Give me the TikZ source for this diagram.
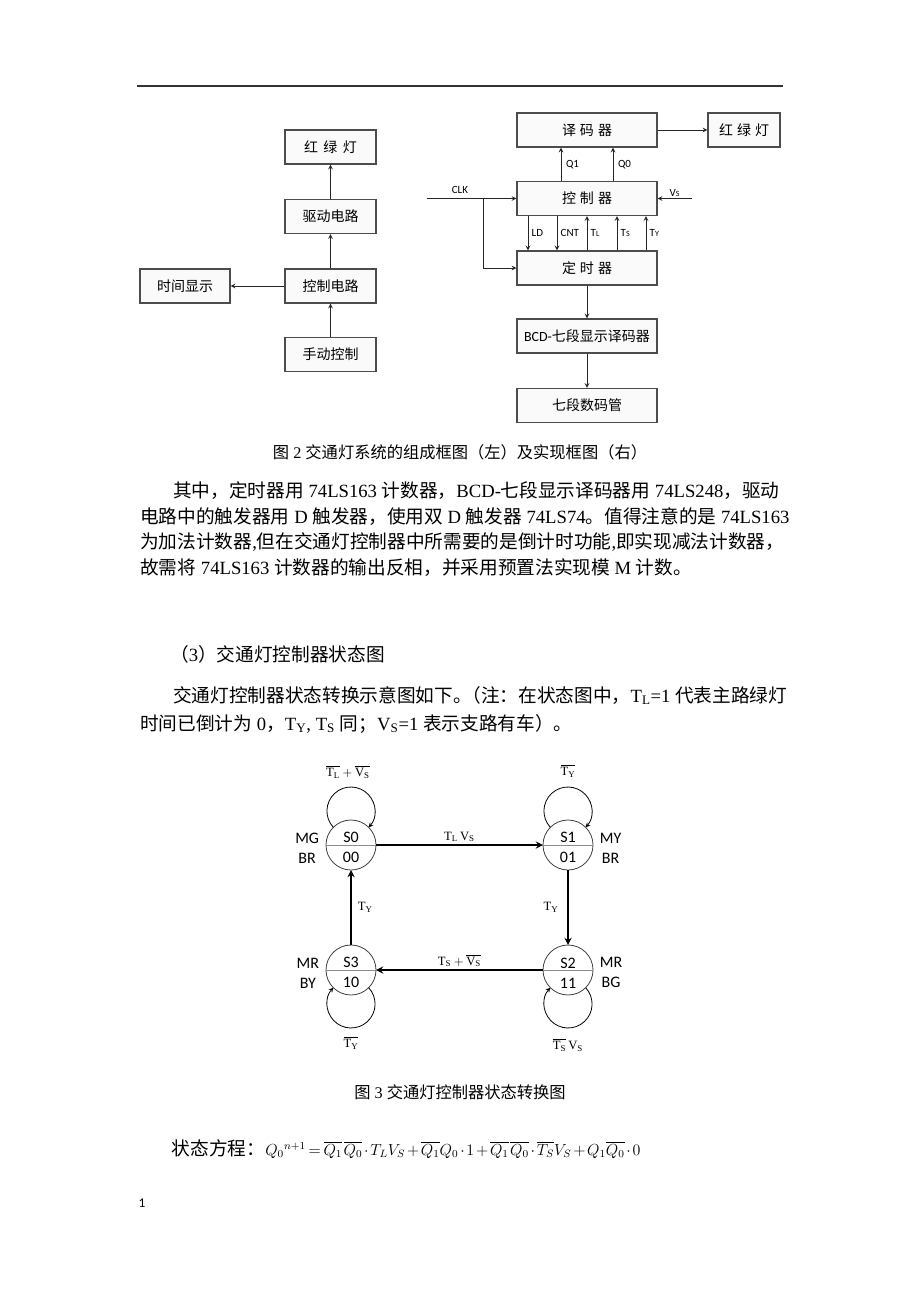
\documentclass[tikz,border=0pt]{standalone}
\usepackage{fontspec}
\setmainfont{Liberation Serif}
\newfontfamily\zh{Noto Sans CJK SC}
\newfontfamily\calfont{Carlito}
\usetikzlibrary{arrows,positioning,calc}
\newcommand\sm[1]{{\fontsize{6}{6}\selectfont #1}}

\begin{document}
\begin{tikzpicture}[> = stealth, x=0.75pt, y=0.75pt]
  \tikzstyle{blk}=[draw=black!70, line width=0.9pt, fill=black!2, minimum height=25.5pt, inner sep=0pt, font=\fontsize{10.5}{12}\selectfont\zh]
  \tikzstyle{wire}=[draw=black!85, line width=0.6pt]
  \tikzstyle{lbl}=[inner sep=1.5pt, font=\fontsize{8.25}{10}\selectfont\calfont]
  \tikzstyle{state}=[circle, draw=black!75, line width=0.6pt, minimum size=37.5pt, inner sep=0pt, outer sep=0pt, align=center, font=\fontsize{12}{15}\selectfont\calfont]
  \tikzstyle{side}=[inner sep=0pt, align=center, font=\fontsize{12}{15}\selectfont\calfont]
  \tikzstyle{cond}=[inner sep=1.5pt, font=\fontsize{9.5}{11}\selectfont]
  \tikzstyle{edge}=[->, line width=1.4pt]
  \tikzstyle{selfloop}=[->, line width=0.6pt]
  \tikzstyle{para}=[inner sep=0pt, anchor=base west, font=\fontsize{14}{17}\selectfont]
  \tikzstyle{figcap}=[inner sep=0pt, font=\fontsize{12.2}{14}\selectfont]

  \fill[white] (0,0) rectangle (920,-1302);
  \useasboundingbox (0,0) rectangle (920,-1302);

  % 页眉线
  \draw[black!80, line width=1.1pt] (137,-86) -- (783,-86);

  % 组成框图（左）
  \node[blk, minimum width=68.25pt] (lamp)   at (330.5,-147)   {红\hspace{4pt}绿\hspace{4pt}灯};
  \node[blk, minimum width=68.25pt] (drive)  at (330.5,-216.5) {驱动电路};
  \node[blk, minimum width=68.25pt] (ctrl)   at (330.5,-286)   {控制电路};
  \node[blk, minimum width=68.25pt] (manual) at (330.5,-354.5) {手动控制};
  \node[blk, minimum width=67.5pt]  (tshow)  at (185,-286)     {时间显示};

  \draw[wire,->] (manual) -- (ctrl);
  \draw[wire,->] (ctrl) -- (drive);
  \draw[wire,->] (drive) -- (lamp);
  \draw[wire,->] (ctrl) -- (tshow);

  % 实现框图（右）
  \node[blk, minimum width=105pt] (dec)   at (587,-130)   {译\hspace{3pt}码\hspace{3pt}器};
  \node[blk, minimum width=54pt]  (lamp2) at (744,-130)   {红\hspace{3pt}绿\hspace{3pt}灯};
  \node[blk, minimum width=105pt] (ctl)   at (587,-198.5) {控\hspace{3pt}制\hspace{3pt}器};
  \node[blk, minimum width=105pt] (tmr)   at (587,-268)   {定\hspace{3pt}时\hspace{3pt}器};
  \node[blk, minimum width=105pt] (bcd)   at (587,-336)   {{\calfont BCD-}七段显示译码器};
  \node[blk, minimum width=105pt] (seg)   at (587,-405.5) {七段数码管};
  \coordinate (clkin) at (426.7,-198.5);
  \coordinate (clkbr) at (483.3,-198.5);
  \coordinate (vsin)  at (691.7,-198.5);

  \draw[wire,->] (dec) -- (lamp2);
  \draw[wire,->] ($(ctl.north)+(-26,0)$) -- node[lbl, right=2pt] {Q1} ($(dec.south)+(-26,0)$);
  \draw[wire,->] ($(ctl.north)+(26,0)$) -- node[lbl, right=2pt] {Q0} ($(dec.south)+(26,0)$);
  \draw[wire,->] (clkin) -- node[lbl, above=2pt, pos=0.37] {CLK} (ctl.west);
  \draw[wire,->] (clkbr) |- (tmr);
  \draw[wire,->] (vsin) -- node[lbl, above] {V\sm{S}} (ctl.east);
  \draw[wire,->] ($(ctl.south)+(-59,0)$) -- node[lbl, right=1pt] {LD} ($(tmr.north)+(-59,0)$);
  \draw[wire,->] ($(ctl.south)+(-30,0)$) -- node[lbl, right=1pt] {CNT} ($(tmr.north)+(-30,0)$);
  \draw[wire,->] (tmr.north) -- node[lbl, right=1pt] {T\sm{L}} (ctl.south);
  \draw[wire,->] ($(tmr.north)+(30,0)$) -- node[lbl, right=1pt] {T\sm{S}} ($(ctl.south)+(30,0)$);
  \draw[wire,->] ($(tmr.north)+(59,0)$) -- node[lbl, right=1pt] {T\sm{Y}} ($(ctl.south)+(59,0)$);
  \draw[wire,->] (tmr) -- (bcd);
  \draw[wire,->] (bcd) -- (seg);

  \node[figcap] (cap2) at (460,-452) {{\zh 图} 2 {\zh 交通灯系统的组成框图（左）及实现框图（右）}};

  % 正文
  \node[para] (p1) at (173,-497.5) {{\zh 其中，定时器用} 74LS163 {\zh 计数器，}BCD-{\zh 七段显示译码器用} 74LS248{\zh ，驱动}};
  \node[para] (p2) at (140,-523) {{\zh 电路中的触发器用} D {\zh 触发器，使用双} D {\zh 触发器} 74LS74{\zh 。值得注意的是} 74LS163};
  \node[para] (p3) at (140,-548.5) {{\zh 为加法计数器},{\zh 但在交通灯控制器中所需要的是倒计时功能},{\zh 即实现减法计数器，}};
  \node[para] (p4) at (140,-574) {{\zh 故需将} 74LS163 {\zh 计数器的输出反相，并采用预置法实现模} M {\zh 计数。}};
  \node[para] (h3) at (170,-661) {{\zh （}3{\zh ）交通灯控制器状态图}};
  \node[para] (n1) at (173,-702) {{\zh 交通灯控制器状态转换示意图如下。\hspace{-0.5em}（注：在状态图中，}T\textsubscript{L}=1 {\zh 代表主路绿灯}};
  \node[para] (n2) at (140,-730) {{\zh 时间已倒计为} 0{\zh ，}T\textsubscript{Y}, T\textsubscript{S} {\zh 同；}V\textsubscript{S}=1 {\zh 表示支路有车）。}};

  % 状态
  \node[state] (s0) at (351,-845) {\rule{0pt}{12pt}S0\\00};
  \node[state] (s1) at (568,-845) {\rule{0pt}{12pt}S1\\01};
  \node[state] (s2) at (568,-970) {\rule{0pt}{12pt}S2\\11};
  \node[state] (s3) at (351,-970) {\rule{0pt}{12pt}S3\\10};
  \foreach \s in {s0,s1,s2,s3}
    \draw[black!45, line width=0.6pt] (\s.west) -- (\s.east);
  \node[side, left=5pt of s0]  (m0) {\rule{0pt}{12pt}MG\\BR};
  \node[side, right=5pt of s1] (m1) {\rule{0pt}{12pt}MY\\BR};
  \node[side, right=5pt of s2] (m2) {\rule{0pt}{12pt}MR\\BG};
  \node[side, left=5pt of s3]  (m3) {\rule{0pt}{12pt}MR\\BY};

  % 转换
  \draw[edge] (s0) -- node[cond, above] {$\mathrm{T_L\,V_S}$} (s1);
  \draw[edge] (s1) -- node[cond, left=5pt] {$\mathrm{T_Y}$} (s2);
  \draw[edge] (s2) -- node[cond, above] {$\mathrm{T_S}+\overline{\mathrm{V_S}}$} (s3);
  \draw[edge] (s3) -- node[cond, right=3pt] {$\mathrm{T_Y}$} (s0);
  \draw[selfloop] (s0.135) arc[start angle=222.8, end angle=-42.8, radius=24];
  \draw[selfloop] (s1.135) arc[start angle=222.8, end angle=-42.8, radius=24];
  \draw[selfloop] (s2.-45) arc[start angle=42.8, end angle=-222.8, radius=24];
  \draw[selfloop] (s3.-45) arc[start angle=42.8, end angle=-222.8, radius=24];
  \node[cond] (c0) at ($(s0)+(-3,73)$)  {$\overline{\mathrm{T_L}}+\overline{\mathrm{V_S}}$};
  \node[cond] (c1) at ($(s1)+(0,74)$)   {$\overline{\mathrm{T_Y}}$};
  \node[cond] (c2) at ($(s2)+(0,-75)$)  {$\overline{\mathrm{T_S}}\,\mathrm{V_S}$};
  \node[cond] (c3) at ($(s3)+(0,-73)$)  {$\overline{\mathrm{T_Y}}$};

  \node[figcap] (cap3) at (460,-1092) {{\zh 图} 3 {\zh 交通灯控制器状态转换图}};

  \node[para] (eq) at (171.7,-1155) {{\zh 状态方程：}\fontsize{12}{14}\selectfont\medmuskip=2mu\thickmuskip=3mu$Q_0{}^{n+1}=\overline{Q_1}\mkern1.5mu\overline{Q_0}\cdot T_LV_S+\overline{Q_1}Q_0\cdot 1+\overline{Q_1}\mkern1.5mu\overline{Q_0}\cdot\overline{T_S}V_S+Q_1\overline{Q_0}\cdot 0$};

  \node[font=\fontsize{10}{12}\selectfont\calfont] (pg) at (142,-1203) {1};
\end{tikzpicture}
\end{document}
